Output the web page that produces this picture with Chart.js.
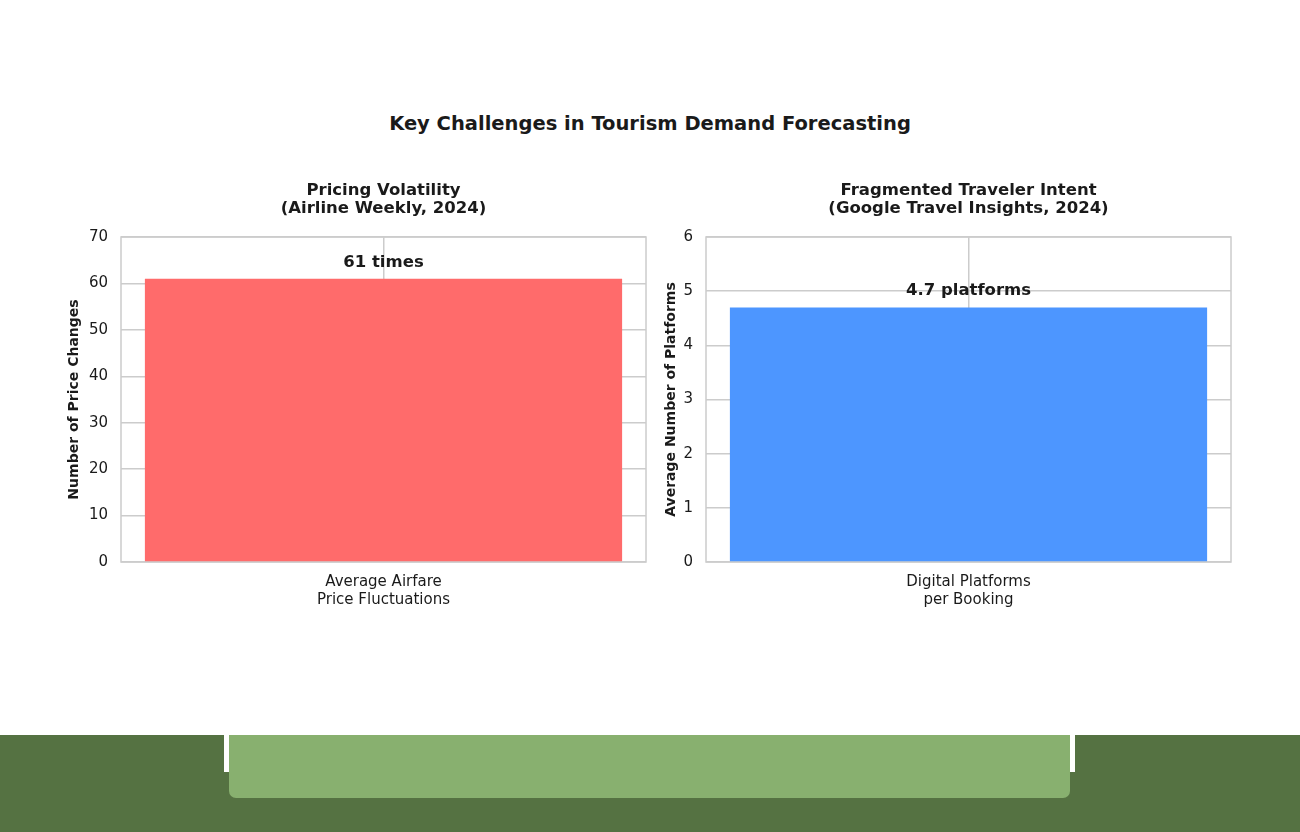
<!DOCTYPE html>
<html>
<head>
<meta charset="utf-8">
<script src="https://cdn.jsdelivr.net/npm/chart.js@4.4.1/dist/chart.umd.min.js"></script>
<style>
  html, body { margin: 0; padding: 0; background: #fff; }
  body { width: 1300px; height: 832px; position: relative; overflow: hidden; font-family: "DejaVu Sans", sans-serif; }
  #mainTitle { position: absolute; left: 0; width: 1300px; top: 112px; text-align: center; font-weight: bold; font-size: 19.5px; color: #1a1a1a; }
  .box { position: absolute; top: 170px; width: 610px; height: 450px; }
  #footer { position: absolute; left: 0; top: 735px; width: 1300px; height: 97px; background: #557242; }
  .gap { position: absolute; top: 735px; width: 5px; height: 37px; background: #fff; }
  #band { position: absolute; left: 229px; top: 735px; width: 841px; height: 63px; background: #88b06f; border-radius: 0 0 7px 7px; }
</style>
</head>
<body>
<div id="mainTitle">Key Challenges in Tourism Demand Forecasting</div>
<div class="box" style="left:50px"><canvas id="leftChart"></canvas></div>
<div class="box" style="left:635px"><canvas id="rightChart"></canvas></div>
<div id="footer"></div>
<div class="gap" style="left:224px"></div>
<div class="gap" style="left:1070px"></div>
<div id="band"></div>
<script>
// Daten
const leftCategories = [['Average Airfare', 'Price Fluctuations']];
const leftValues = [61];
const leftBarLabels = ['61 times'];
const leftTitle = ['Pricing Volatility', '(Airline Weekly, 2024)'];
const leftAxisTitle = 'Number of Price Changes';
const leftMax = 70;
const leftStep = 10;

const rightCategories = [['Digital Platforms', 'per Booking']];
const rightValues = [4.7];
const rightBarLabels = ['4.7 platforms'];
const rightTitle = ['Fragmented Traveler Intent', '(Google Travel Insights, 2024)'];
const rightAxisTitle = 'Average Number of Platforms';
const rightMax = 6;
const rightStep = 1;

const textColor = '#1a1a1a';
const gridColor = '#cccccc';

// Rahmen rund um die Plotfläche
const framePlugin = {
    id: 'frame',
    beforeDatasetsDraw(chart) {
        const { ctx, chartArea } = chart;
        ctx.save();
        ctx.strokeStyle = gridColor;
        ctx.lineWidth = 1.5;
        ctx.strokeRect(chartArea.left, chartArea.top, chartArea.right - chartArea.left, chartArea.bottom - chartArea.top);
        ctx.restore();
    }
};

// Beschriftung über dem Balken + Titel über der Plotfläche
const valueLabelPlugin = {
    id: 'valueLabel',
    afterDatasetsDraw(chart, args, opts) {
        const { ctx, chartArea } = chart;
        const meta = chart.getDatasetMeta(0);
        ctx.save();
        ctx.font = 'bold 16.5px "DejaVu Sans"';
        ctx.fillStyle = textColor;
        ctx.textAlign = 'center';
        ctx.textBaseline = 'bottom';
        meta.data.forEach((bar, i) => {
            ctx.fillText(opts.labels[i], bar.x, bar.y - 8);
        });
        // Untertitel, zentriert über der Plotfläche
        const cx = (chartArea.left + chartArea.right) / 2;
        ctx.textBaseline = 'middle';
        opts.title.forEach((line, i) => {
            ctx.fillText(line, cx, 21 + i * 18);
        });
        ctx.restore();
    }
};

const makeChart = (id, categories, values, barLabels, title, axisTitle, titlePad, max, step, color) => {
    return new Chart(document.getElementById(id), {
        type: 'bar',
        data: {
            labels: categories,
            datasets: [{
                data: values,
                backgroundColor: color,
                borderWidth: 0,
                barPercentage: 0.909,
                categoryPercentage: 1.0
            }]
        },
        options: {
            responsive: true,
            maintainAspectRatio: false,
            animation: false,
            layout: { padding: { left: 0, right: 14, top: 67, bottom: 0 } },
            plugins: {
                legend: { display: false },
                tooltip: { enabled: false },
                title: { display: false },
                valueLabel: { labels: barLabels, title: title }
            },
            scales: {
                x: {
                    grid: { color: gridColor, lineWidth: 1.5, offset: false, drawTicks: false },
                    border: { display: false },
                    ticks: {
                        color: textColor,
                        font: { family: 'DejaVu Sans', size: 15, lineHeight: 1.2 },
                        padding: 11,
                        maxRotation: 0
                    }
                },
                y: {
                    min: 0,
                    max: max,
                    grid: { color: gridColor, lineWidth: 1.5, drawTicks: false },
                    border: { display: false },
                    ticks: {
                        stepSize: step,
                        color: textColor,
                        font: { family: 'DejaVu Sans', size: 15 },
                        padding: 13
                    },
                    title: {
                        display: true,
                        text: axisTitle,
                        color: textColor,
                        font: { family: 'DejaVu Sans', size: 14, weight: 'bold' },
                        padding: { top: titlePad, bottom: 0 }
                    },
                    afterFit: (scale) => { scale.width = 71; }
                }
            }
        },
        plugins: [framePlugin, valueLabelPlugin]
    });
};

makeChart('leftChart', leftCategories, leftValues, leftBarLabels, leftTitle, leftAxisTitle, 16, leftMax, leftStep, '#ff6b6b');
makeChart('rightChart', rightCategories, rightValues, rightBarLabels, rightTitle, rightAxisTitle, 28, rightMax, rightStep, '#4d96ff');
</script>
</body>
</html>
